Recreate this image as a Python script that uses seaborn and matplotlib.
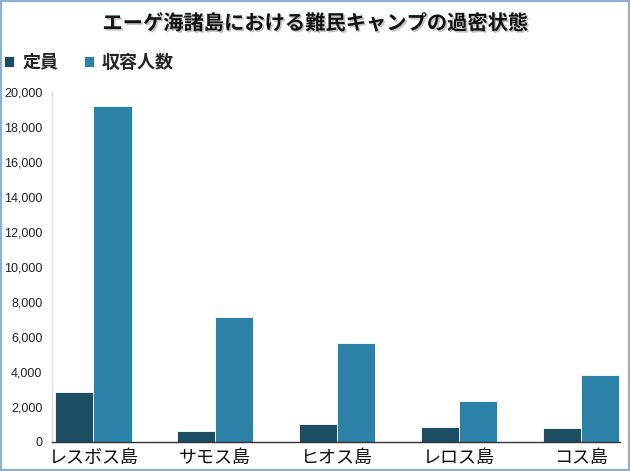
import matplotlib
matplotlib.use("Agg")
import matplotlib.pyplot as plt
import matplotlib.patheffects as pe
from matplotlib.patches import Rectangle
import seaborn as sns
import pandas as pd

islands = ["レスボス島", "サモス島", "ヒオス島", "レロス島", "コス島"]
capacity = [2840, 650, 1010, 860, 820]
occupancy = [19200, 7150, 5650, 2350, 3830]
series = ["定員", "収容人数"]
colors = ["#1b4d63", "#2c81a6"]
yticks = [0, 2000, 4000, 6000, 8000, 10000, 12000, 14000, 16000, 18000, 20000]

sns.set_theme(style="white")
plt.rcParams["font.family"] = ["Noto Sans CJK JP", "DejaVu Sans"]

df = pd.DataFrame({
    "島": islands * 2,
    "値": capacity + occupancy,
    "系列": [series[0]] * len(islands) + [series[1]] * len(islands),
})

fig = plt.figure(figsize=(6.3, 4.71), dpi=100)
ax = fig.add_axes([52 / 630, 29 / 471, 568 / 630, 350 / 471])

sns.barplot(data=df, x="島", y="値", hue="系列", palette=colors,
            width=0.625, saturation=1, ax=ax, edgecolor="white", linewidth=0.6)

ax.set_xlim(-0.34, 4.32)
ax.set_ylim(0, 20000)
ax.set_yticks(yticks)
ax.set_yticklabels([f"{v:,}" for v in yticks], fontsize=9, family=["Liberation Sans"], color="#222222")
ax.tick_params(axis="y", length=0, pad=7)
ax.tick_params(axis="x", length=0, pad=5, labelsize=13, labelcolor="#111111")
ax.set_xlabel("")
ax.set_ylabel("")
for s in ["top", "right"]:
    ax.spines[s].set_visible(False)
ax.spines["left"].set_color("#dddddd")
ax.spines["left"].set_linewidth(1)
ax.spines["bottom"].set_color("#333333")
ax.spines["bottom"].set_linewidth(1)

handles, labels = ax.get_legend_handles_labels()
ax.get_legend().remove()
leg = fig.legend(handles, labels, loc="center left", bbox_to_anchor=(4 / 630, 1 - 62 / 471),
                 ncol=2, frameon=False, handlelength=0.56, handleheight=0.56,
                 handletextpad=0.45, columnspacing=1.4, borderpad=0, borderaxespad=0,
                 prop={"size": 13, "weight": "bold"})

fig.text(0.5, 1 - 23 / 471, "エーゲ海諸島における難民キャンプの過密状態",
         ha="center", va="center", fontsize=14.6, fontweight="bold", color="#111111",
         path_effects=[pe.withSimplePatchShadow(offset=(1.2, -1.2), shadow_rgbFace="#999999", alpha=0.6)])

fig.patches.append(Rectangle((0.0015, 0.002), 0.997, 0.996, transform=fig.transFigure,
                             fill=False, edgecolor="#8fb1d0", linewidth=1.6))

fig.savefig("out.png", dpi=100)
